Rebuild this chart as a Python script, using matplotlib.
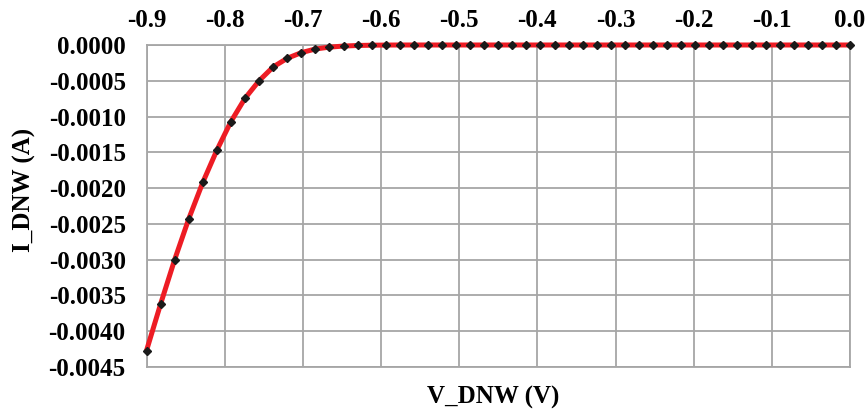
#!/usr/bin/env python3

import numpy as np
import matplotlib
matplotlib.use('Agg')
import matplotlib.pyplot as plt
from matplotlib.ticker import MultipleLocator, FuncFormatter

PLOT = 'out.png'

# DNW sweep: bias voltage (V) and measured current (A)
V_DNW = [-0.900, -0.882, -0.864, -0.846, -0.828, -0.810, -0.792, -0.774, -0.756, -0.738,
         -0.720, -0.702, -0.684, -0.666, -0.648, -0.630, -0.612, -0.594, -0.576, -0.558,
         -0.540, -0.522, -0.504, -0.486, -0.468, -0.450, -0.432, -0.414, -0.396, -0.378,
         -0.360, -0.342, -0.324, -0.306, -0.288, -0.270, -0.252, -0.234, -0.216, -0.198,
         -0.180, -0.162, -0.144, -0.126, -0.108, -0.090, -0.072, -0.054, -0.036, -0.018,
         0.000]
I_DNW = [-4.27e-3, -3.62e-3, -3.00e-3, -2.43e-3, -1.92e-3, -1.47e-3, -1.07e-3, -7.45e-4,
         -5.00e-4, -3.07e-4, -1.86e-4, -1.07e-4, -5.6e-5, -3.0e-5, -1.5e-5, -7e-6,
         -3e-6, -1e-6, 0, 0, 0, 0, 0, 0, 0, 0, 0, 0, 0, 0,
         0, 0, 0, 0, 0, 0, 0, 0, 0, 0, 0, 0, 0, 0, 0, 0, 0, 0, 0, 0, 0]

X_TICKS = [-0.9, -0.8, -0.7, -0.6, -0.5, -0.4, -0.3, -0.2, -0.1, 0.0]

GRID_COLOR = '#a6a6a6'
FONT = {'family': 'Liberation Serif', 'weight': 'bold', 'size': 18}

def fmt(decimals):
	# no minus sign on zero
	def f(v, pos):
		s = f'{v:.{decimals}f}'
		return s[1:] if float(s) == 0 and s.startswith('-') else s
	return FuncFormatter(f)

def gen_plot():
	fig = plt.figure(figsize=(8.68, 4.12), dpi=100)
	ax = fig.add_axes([0.1688, 0.1092, 0.8105, 0.7816])

	ax.plot(V_DNW, I_DNW, color='#ed1c24', linewidth=3.6, zorder=3,
	        solid_capstyle='round', clip_on=False)
	ax.plot(V_DNW, I_DNW, linestyle='none', marker='D', markersize=4.2,
	        color='#1a1a1a', zorder=4, clip_on=False)

	ax.set_xlim(-0.9, 0.0)
	ax.set_ylim(-0.0045, 0.0)

	ax.set_xticks(X_TICKS)
	ax.xaxis.set_major_formatter(fmt(1))
	ax.yaxis.set_major_locator(MultipleLocator(0.0005))
	ax.yaxis.set_major_formatter(fmt(4))

	ax.xaxis.tick_top()
	ax.tick_params(axis='x', length=0, pad=9)
	ax.tick_params(axis='y', length=0, pad=15)
	for lbl in ax.get_xticklabels() + ax.get_yticklabels():
		lbl.set_fontproperties(FONT)

	ax.grid(True, color=GRID_COLOR, linewidth=1.3)
	ax.set_axisbelow(True)
	for sp in ax.spines.values():
		sp.set_color(GRID_COLOR)
		sp.set_linewidth(1.3)

	ax.set_xlabel('V_DNW (V)', fontdict=FONT)
	ax.xaxis.set_label_position('bottom')
	ax.xaxis.label.set_va('center')
	ax.xaxis.set_label_coords(0.4925, -0.093)
	ax.set_ylabel('I_DNW (A)', fontdict=FONT)
	ax.yaxis.label.set_va('center')
	ax.yaxis.set_label_coords(-0.174, 0.55)

	plt.savefig(PLOT, dpi=100)

if __name__ == '__main__':
	gen_plot()
